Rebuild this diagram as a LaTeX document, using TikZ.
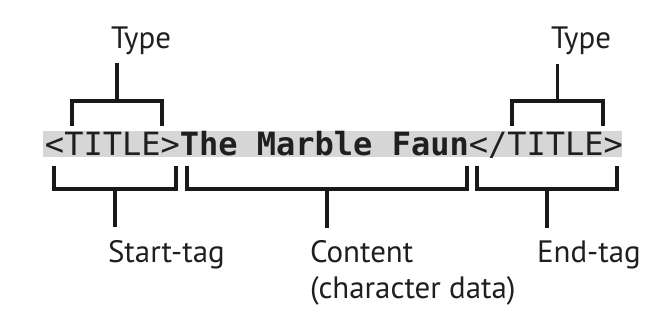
\documentclass[tikz,border=0pt]{standalone}
\usepackage{fontspec}
\setmainfont{PT Sans}
\newfontfamily\codefont{DejaVu Sans Mono}
\begin{document}
\begin{tikzpicture}[x=0.75pt,y=-0.75pt,
  bracket/.style={line width=2.4pt,line cap=butt,line join=miter,black!90},
  code/.style={inner sep=0pt,outer sep=0pt,anchor=base west,text=black!88,
    font=\codefont\fontsize{24}{28}\selectfont},
  lab/.style={inner sep=0pt,outer sep=0pt,anchor=base west,text=black!88,
    font=\fontsize{23.2}{27}\selectfont,align=left},
  band/.style={fill={rgb,255:red,214;green,214;blue,214}}]
\useasboundingbox (0,0) rectangle (665,329);
% highlighted markup line
\fill[band] (43,131) rectangle (622,157);
\node[code] (stag) at (45,155) {<TITLE>};
\node[code,font=\codefont\bfseries\fontsize{24}{28}\selectfont] (ctext) at (stag.base east) {The Marble Faun};
\node[code] (etag) at (ctext.base east) {</TITLE>};
% labels
\node[lab] (typeL) at (111,48) {Type};
\node[lab] (typeR) at (551,48) {Type};
\node[lab] (startL) at (108,262) {Start-tag};
\node[lab] (contL) at (310,262) {Content};
\node[lab] (contL2) at (310,298) {(character data)};
\node[lab] (endL) at (537,262) {End-tag};
% brackets above the tag types
\draw[bracket] (72,126) -- (72,101) -- (162,101) -- (162,126);
\draw[bracket] (117,101) -- (117,63);
\draw[bracket] (512,126) -- (512,101) -- (603,101) -- (603,126);
\draw[bracket] (557.5,101) -- (557.5,64);
% brackets below the parts of the element
\draw[bracket] (54,166) -- (54,189) -- (176,189) -- (176,166);
\draw[bracket] (115,189) -- (115,227);
\draw[bracket] (187,166) -- (187,189) -- (467,189) -- (467,166);
\draw[bracket] (327,189) -- (327,228);
\draw[bracket] (477,166) -- (477,189) -- (617,189) -- (617,166);
\draw[bracket] (547,189) -- (547,228);
\end{tikzpicture}
\end{document}
